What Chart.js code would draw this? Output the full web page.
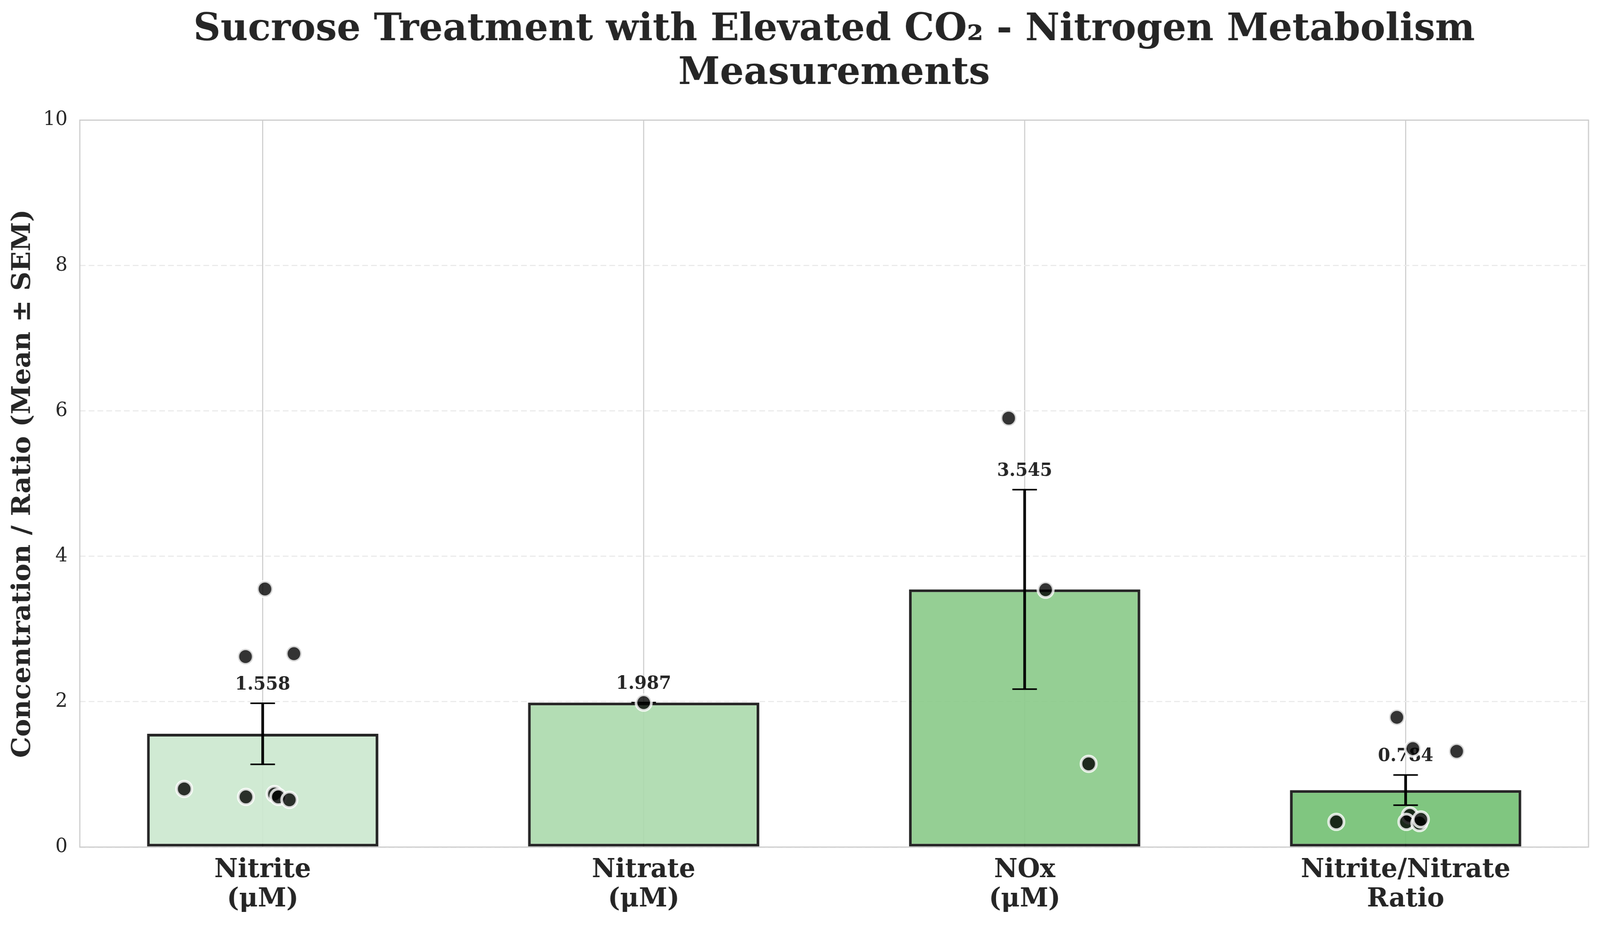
<!DOCTYPE html>
<html>
<head>
  <title>Sucrose Treatment with Elevated CO2 - Nitrogen Metabolism</title>
  <script src="https://cdn.jsdelivr.net/npm/chart.js"></script>
  <style>
    html, body { margin: 0; padding: 0; background: #fff; overflow: hidden; }
    /* the window is narrower than the figure, so squeeze it horizontally to fit */
    #chart-container { width: 4170px; height: 2370px; transform: scaleX(calc(4096 / 4170)); transform-origin: 0 0; }
    canvas { display: block; }
  </style>
</head>
<body>
  <div id="chart-container">
    <canvas id="nitroChart" width="4170" height="2370"></canvas>
  </div>

  <script>
    const FONT = "'DejaVu Serif', 'Liberation Serif', serif";

    const categories = [['Nitrite', '(μM)'], ['Nitrate', '(μM)'], ['NOx', '(μM)'], ['Nitrite/Nitrate', 'Ratio']];
    const means = [1.558, 1.987, 3.545, 0.784];
    const sems = [0.420, 0, 1.372, 0.207];
    const meanLabels = ['1.558', '1.987', '3.545', '0.784'];
    const barColors = ['rgba(203,232,206,0.9)', 'rgba(171,217,172,0.9)', 'rgba(137,202,136,0.9)', 'rgba(114,192,114,0.9)'];
    const yTicks = [0, 2, 4, 6, 8, 10];

    // individual samples (value) and their horizontal jitter around the bar centre
    const nitriteVals = [3.55, 2.62, 2.66, 0.80, 0.69, 0.73, 0.69, 0.65];
    const nitriteJitter = [0.006, -0.045, 0.082, -0.206, -0.044, 0.031, 0.041, 0.070];
    const nitrateVals = [1.987];
    const nitrateJitter = [0];
    const noxVals = [5.90, 3.54, 1.145];
    const noxJitter = [-0.042, 0.055, 0.168];
    const ratioVals = [1.785, 1.355, 1.317, 0.346, 0.435, 0.346, 0.33, 0.38];
    const ratioJitter = [-0.023, 0.019, 0.134, -0.182, 0.011, 0.002, 0.036, 0.040];

    const sampleVals = [nitriteVals, nitrateVals, noxVals, ratioVals];
    const sampleJitter = [nitriteJitter, nitrateJitter, noxJitter, ratioJitter];

    const samplePoints = [];
    sampleVals.forEach((vals, i) => {
      vals.forEach((v, j) => samplePoints.push({ x: i + sampleJitter[i][j], y: v }));
    });

    // frame around plot area (spines)
    const frame = {
      id: 'frame',
      beforeDatasetsDraw(chart) {
        const a = chart.chartArea, ctx = chart.ctx;
        ctx.save();
        ctx.strokeStyle = '#cccccc';
        ctx.lineWidth = 3;
        ctx.strokeRect(a.left, a.top, a.right - a.left, a.bottom - a.top);
        ctx.restore();
      }
    };

    // error bars + mean labels, drawn right after the bars
    const errorBars = {
      id: 'errorBars',
      afterDatasetDraw(chart, args) {
        if (args.index !== 0) return;
        const xs = chart.scales.x, ys = chart.scales.y, ctx = chart.ctx;
        ctx.save();
        ctx.strokeStyle = '#000';
        means.forEach((m, i) => {
          const px = xs.getPixelForValue(i);
          const top = ys.getPixelForValue(m + sems[i]);
          const bot = ys.getPixelForValue(m - sems[i]);
          ctx.lineWidth = 7;
          ctx.beginPath();
          ctx.moveTo(px, top); ctx.lineTo(px, bot);
          ctx.stroke();
          ctx.lineWidth = 4;
          ctx.beginPath();
          ctx.moveTo(px - 32, top); ctx.lineTo(px + 32, top);
          ctx.moveTo(px - 32, bot); ctx.lineTo(px + 32, bot);
          ctx.stroke();

          ctx.fillStyle = '#262626';
          ctx.font = 'bold 46px ' + FONT;
          ctx.textAlign = 'center';
          ctx.textBaseline = 'alphabetic';
          ctx.fillText(meanLabels[i], px, ys.getPixelForValue(m + sems[i] + 0.19));
        });
        ctx.restore();
      }
    };

    const chart = new Chart(document.getElementById('nitroChart'), {
      type: 'bar',
      data: {
        datasets: [{
          type: 'bar',
          data: means.map((m, i) => ({ x: i, y: m })),
          backgroundColor: barColors,
          borderColor: 'rgba(0,0,0,0.85)',
          borderWidth: 7,
          borderSkipped: false,
          barPercentage: 0.607,
          categoryPercentage: 1,
          order: 2
        }, {
          type: 'scatter',
          data: samplePoints,
          showLine: false,
          pointRadius: 20,
          pointBorderWidth: 7,
          pointBackgroundColor: 'rgba(0,0,0,0.8)',
          pointBorderColor: 'rgba(255,255,255,0.8)',
          order: 1
        }]
      },
      options: {
        responsive: false,
        devicePixelRatio: 1,
        animation: false,
        layout: { padding: { left: 0, right: 30, top: 0, bottom: 0 } },
        plugins: {
          legend: { display: false },
          tooltip: { enabled: false },
          title: {
            display: true,
            fullSize: false,
            text: ['Sucrose Treatment with Elevated CO₂ - Nitrogen Metabolism', 'Measurements'],
            color: '#262626',
            font: { family: FONT, size: 98, weight: 'bold', lineHeight: 1.14 },
            padding: { top: 22, bottom: 62 }
          }
        },
        scales: {
          x: {
            type: 'linear',
            offset: false,
            min: -0.48,
            max: 3.48,
            afterBuildTicks: s => { s.ticks = categories.map((c, i) => ({ value: i })); },
            afterFit: s => { s.height = 202; },
            grid: { color: '#d0d0d0', lineWidth: 3, drawTicks: false, offset: false },
            border: { display: false },
            ticks: {
              callback: v => categories[v],
              color: '#262626',
              font: { family: FONT, size: 67, weight: 'bold', lineHeight: 1.12 },
              padding: 22,
              maxRotation: 0,
              autoSkip: false
            }
          },
          y: {
            min: 0,
            max: 10,
            afterBuildTicks: s => { s.ticks = yTicks.map(v => ({ value: v })); },
            afterFit: s => { s.width = 208; },
            grid: { color: '#ebebeb', lineWidth: 3, drawTicks: false },
            border: { display: false, dash: [15, 8] },
            ticks: {
              color: '#262626',
              font: { family: FONT, size: 50 },
              padding: 32
            },
            title: {
              display: true,
              text: 'Concentration / Ratio (Mean ± SEM)',
              color: '#262626',
              font: { family: FONT, size: 68, weight: 'bold' },
              padding: { top: 20, bottom: 0 }
            }
          }
        }
      },
      plugins: [frame, errorBars]
    });
  </script>
</body>
</html>
